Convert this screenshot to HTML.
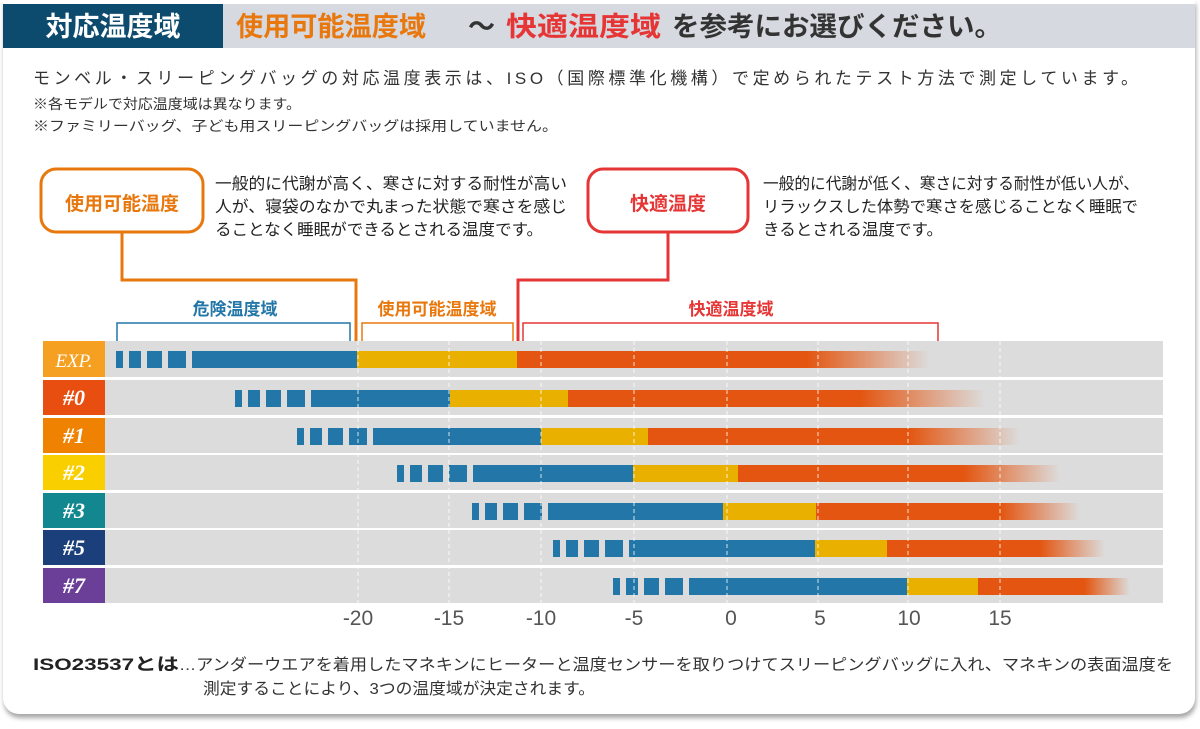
<!DOCTYPE html>
<html><head><meta charset="utf-8"><style>
html,body{margin:0;padding:0;background:#fff;}
body{width:1200px;height:729px;overflow:hidden;position:relative;font-family:"Liberation Sans","Noto Sans CJK JP",sans-serif;}
#card{position:absolute;left:3px;top:0;width:1192px;height:714px;background:#fff;border-radius:0 0 16px 16px;box-shadow:1px 4px 5px rgba(0,0,0,0.35);}
svg{position:absolute;left:0;top:0;}
text{font-family:"Liberation Sans","Noto Sans CJK JP",sans-serif;}
text.lab{font-family:"Liberation Serif",serif;font-style:italic;font-weight:bold;}
</style></head><body>
<div id="card"></div>
<svg width="1200" height="729" viewBox="0 0 1200 729">
<defs>
<linearGradient id="fade" x1="0" x2="1" y1="0" y2="0">
<stop offset="0" stop-color="#e35510"/><stop offset="0.7" stop-color="#e35510"/><stop offset="1" stop-color="#e35510" stop-opacity="0"/>
</linearGradient>
</defs>
<rect x="3" y="4" width="1192" height="44" fill="#d6d9df"/>
<rect x="3" y="4" width="220" height="44" fill="#0c4b6e"/>
<text x="113" y="36" text-anchor="middle" font-size="27" font-weight="bold" fill="#fff">対応温度域</text>
<text x="236" y="36" font-size="27" font-weight="bold" fill="#e8780e" textLength="190" lengthAdjust="spacingAndGlyphs">使用可能温度域</text>
<text x="468" y="36" font-size="27" font-weight="bold" fill="#333">～</text>
<text x="506" y="36" font-size="27" font-weight="bold" fill="#e63535" textLength="155" lengthAdjust="spacingAndGlyphs">快適温度域</text>
<text x="672" y="36" font-size="27" font-weight="bold" fill="#333" textLength="330" lengthAdjust="spacingAndGlyphs">を参考にお選びください。</text>

<text x="33" y="84" font-size="17" fill="#333" textLength="1105" lengthAdjust="spacing">モンベル・スリーピングバッグの対応温度表示は、ISO（国際標準化機構）で定められたテスト方法で測定しています。</text>
<text x="33" y="109" font-size="14" fill="#333" textLength="268" lengthAdjust="spacingAndGlyphs">※各モデルで対応温度域は異なります。</text>
<text x="33" y="131" font-size="14" fill="#333" textLength="525" lengthAdjust="spacingAndGlyphs">※ファミリーバッグ、子ども用スリーピングバッグは採用していません。</text>

<rect x="41" y="169" width="162" height="63" rx="15" fill="#fff" stroke="#e8780e" stroke-width="3"/>
<text x="122" y="210" text-anchor="middle" font-size="19" font-weight="bold" fill="#e8780e">使用可能温度</text>
<polyline points="122,232 122,280 356,280 356,345" fill="none" stroke="#e8780e" stroke-width="3"/>
<polygon points="349,343 363,343 356,354" fill="#e8780e"/>
<text x="215" y="189" font-size="16" fill="#222" textLength="352" lengthAdjust="spacingAndGlyphs">一般的に代謝が高く、寒さに対する耐性が高い</text>
<text x="215" y="212" font-size="16" fill="#222" textLength="352" lengthAdjust="spacingAndGlyphs">人が、寝袋のなかで丸まった状態で寒さを感じ</text>
<text x="215" y="235" font-size="16" fill="#222" textLength="328" lengthAdjust="spacingAndGlyphs">ることなく睡眠ができるとされる温度です。</text>

<rect x="588" y="169" width="160" height="63" rx="15" fill="#fff" stroke="#e63535" stroke-width="3"/>
<text x="668" y="210" text-anchor="middle" font-size="19" font-weight="bold" fill="#e63535">快適温度</text>
<polyline points="668,232 668,280 518,280 518,345" fill="none" stroke="#e63535" stroke-width="3"/>
<polygon points="511,343 525,343 518,354" fill="#e63535"/>
<text x="763" y="189" font-size="16" fill="#222" textLength="376" lengthAdjust="spacingAndGlyphs">一般的に代謝が低く、寒さに対する耐性が低い人が、</text>
<text x="763" y="212" font-size="16" fill="#222" textLength="375" lengthAdjust="spacingAndGlyphs">リラックスした体勢で寒さを感じることなく睡眠で</text>
<text x="763" y="235" font-size="16" fill="#222" textLength="180" lengthAdjust="spacingAndGlyphs">きるとされる温度です。</text>

<text x="235" y="315" text-anchor="middle" font-size="17" font-weight="bold" fill="#2277a8">危険温度域</text>
<polyline points="117,345 117,323 350,323 350,345" fill="none" stroke="#2277a8" stroke-width="1.5"/>
<text x="437" y="315" text-anchor="middle" font-size="17" font-weight="bold" fill="#e8780e">使用可能温度域</text>
<polyline points="362,345 362,323 513,323 513,345" fill="none" stroke="#e8780e" stroke-width="1.5"/>
<text x="731" y="315" text-anchor="middle" font-size="17" font-weight="bold" fill="#e63535">快適温度域</text>
<polyline points="523,345 523,323 938,323 938,348" fill="none" stroke="#e63535" stroke-width="1.5"/>

<g fill="#dcdcdc">
<rect x="105" y="341" width="1058" height="36"/>
<rect x="105" y="380" width="1058" height="35"/>
<rect x="105" y="418" width="1058" height="35"/>
<rect x="105" y="455" width="1058" height="35"/>
<rect x="105" y="493" width="1058" height="35"/>
<rect x="105" y="530" width="1058" height="35"/>
<rect x="105" y="568" width="1058" height="35"/>
</g>
<g font-size="22" fill="#fff" text-anchor="middle">
<rect x="43" y="341" width="62" height="36" fill="#f5a020"/><text class="lab" x="74" y="367" font-size="19" style="font-weight:normal">EXP.</text>
<rect x="43" y="380" width="62" height="35" fill="#e84e0f"/><text class="lab" x="74" y="405">#0</text>
<rect x="43" y="418" width="62" height="35" fill="#ef8200"/><text class="lab" x="74" y="443">#1</text>
<rect x="43" y="455" width="62" height="35" fill="#f9cf00"/><text class="lab" x="74" y="480">#2</text>
<rect x="43" y="493" width="62" height="35" fill="#13878f"/><text class="lab" x="74" y="518">#3</text>
<rect x="43" y="530" width="62" height="35" fill="#1b3f7a"/><text class="lab" x="74" y="555">#5</text>
<rect x="43" y="568" width="62" height="35" fill="#6b3f98"/><text class="lab" x="74" y="593">#7</text>
</g>

<g id="bars"></g>
<g stroke="#fff" stroke-width="1" stroke-dasharray="4,3" opacity="0.8">
<line x1="358" y1="341" x2="358" y2="603"/><line x1="449" y1="341" x2="449" y2="603"/>
<line x1="541" y1="341" x2="541" y2="603"/><line x1="634" y1="341" x2="634" y2="603"/>
<line x1="727" y1="341" x2="727" y2="603"/><line x1="818" y1="341" x2="818" y2="603"/>
<line x1="908" y1="341" x2="908" y2="603"/><line x1="1000" y1="341" x2="1000" y2="603"/>
</g>
<g font-size="21" fill="#555" text-anchor="middle">
<text x="358" y="625">-20</text><text x="449" y="625">-15</text><text x="541" y="625">-10</text><text x="634" y="625">-5</text>
<text x="731" y="625">0</text><text x="820" y="625">5</text><text x="909" y="625">10</text><text x="1000" y="625">15</text>
</g>

<text x="33" y="670" font-size="17" font-weight="bold" fill="#222" textLength="146" lengthAdjust="spacingAndGlyphs">ISO23537とは</text>
<text x="179" y="670" font-size="16" fill="#333" textLength="994" lengthAdjust="spacingAndGlyphs">…アンダーウエアを着用したマネキンにヒーターと温度センサーを取りつけてスリーピングバッグに入れ、マネキンの表面温度を</text>
<text x="203" y="694" font-size="16" fill="#333" textLength="392" lengthAdjust="spacingAndGlyphs">測定することにより、3つの温度域が決定されます。</text>
</svg>
<script>
var rows=[[116,351,357,517,930],[235,390,450,568,985],[297,428,541,648,1020],[397,465,633,738,1060],[472,503,723,816,1080],[553,540,815,887,1105],[613,578,907,978,1130]];
var g=document.getElementById('bars'),h='';
rows.forEach(function(r){var s=r[0],cy=r[1],b=r[2],ye=r[3],o=r[4];
var segs=[[0,7],[13,25],[31,46],[52,70]];
segs.forEach(function(d){h+='<rect x="'+(s+d[0])+'" y="'+cy+'" width="'+(d[1]-d[0])+'" height="17" fill="#2277a8"/>';});
h+='<rect x="'+(s+76)+'" y="'+cy+'" width="'+(b-s-76)+'" height="17" fill="#2277a8"/>';
h+='<rect x="'+b+'" y="'+cy+'" width="'+(ye-b)+'" height="17" fill="#eab000"/>';
h+='<rect x="'+ye+'" y="'+cy+'" width="'+(o-ye)+'" height="17" fill="url(#fade)"/>';});
g.innerHTML=h;
</script>
</body></html>
